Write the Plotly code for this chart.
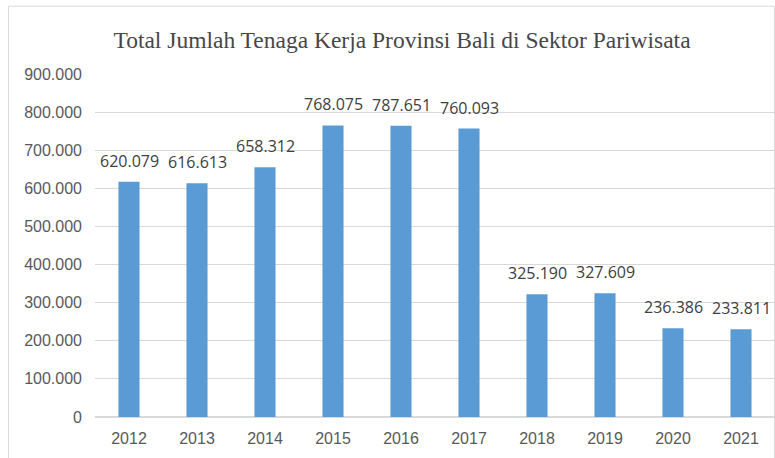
import plotly.graph_objects as go

years = ["2012", "2013", "2014", "2015", "2016", "2017", "2018", "2019", "2020", "2021"]
# bar heights as drawn in the picture
values = [617000, 613500, 655000, 765000, 764000, 757000, 322000, 324500, 233000, 230500]
# data labels as printed
labels = ["620.079", "616.613", "658.312", "768.075", "787.651", "760.093",
          "325.190", "327.609", "236.386", "233.811"]
title = "Total Jumlah Tenaga Kerja Provinsi Bali di Sektor Pariwisata"

W, H = 775, 458
L, R, T, B = 95, 0, 73.5, 40.7
pw = W - L - R
ph = H - T - B


def py(p):
    return (H - B - p) / ph


def px(p):
    return (p - L) / pw


fig = go.Figure()
fig.add_trace(go.Bar(x=years, y=values, marker=dict(color="#5b9bd5", line=dict(width=0)),
                     hoverinfo="skip"))

for i, (v, lab) in enumerate(zip(values, labels)):
    fig.add_annotation(x=i, y=v, text=lab, showarrow=False, yanchor="bottom",
                       yshift=8, font=dict(family="Open Sans", size=16, color="#404040"))

fig.add_shape(type="rect", xref="paper", yref="paper",
              x0=px(8.5), x1=px(774.5), y0=py(470), y1=py(5.5),
              line=dict(color="#d9d9d9", width=1), fillcolor="rgba(0,0,0,0)", layer="below")

fig.update_layout(
    width=W, height=H,
    margin=dict(l=L, r=R, t=T, b=B, pad=0),
    paper_bgcolor="white", plot_bgcolor="white",
    separators=",.",
    bargap=0.69,
    showlegend=False,
    title=dict(text=title, x=px(402), xref="paper", xanchor="center",
               y=1 - 40 / H, yanchor="middle",
               font=dict(family="Liberation Serif", size=23.5, color="#474747")),
    xaxis=dict(type="category", range=[-0.5, len(years) - 0.5], showgrid=False,
               showline=False, ticks="", ticklabelstandoff=10,
               tickfont=dict(family="Liberation Sans", size=16, color="#595959"),
               fixedrange=True),
    yaxis=dict(range=[0, 900000], dtick=100000, tickformat=",d", showgrid=True,
               gridcolor="#d9d9d9", gridwidth=1, zeroline=True, zerolinecolor="#d9d9d9",
               showline=False, ticks="", ticklabelstandoff=12,
               tickfont=dict(family="Liberation Sans", size=16, color="#595959")),
)

fig.write_html("out.html")
